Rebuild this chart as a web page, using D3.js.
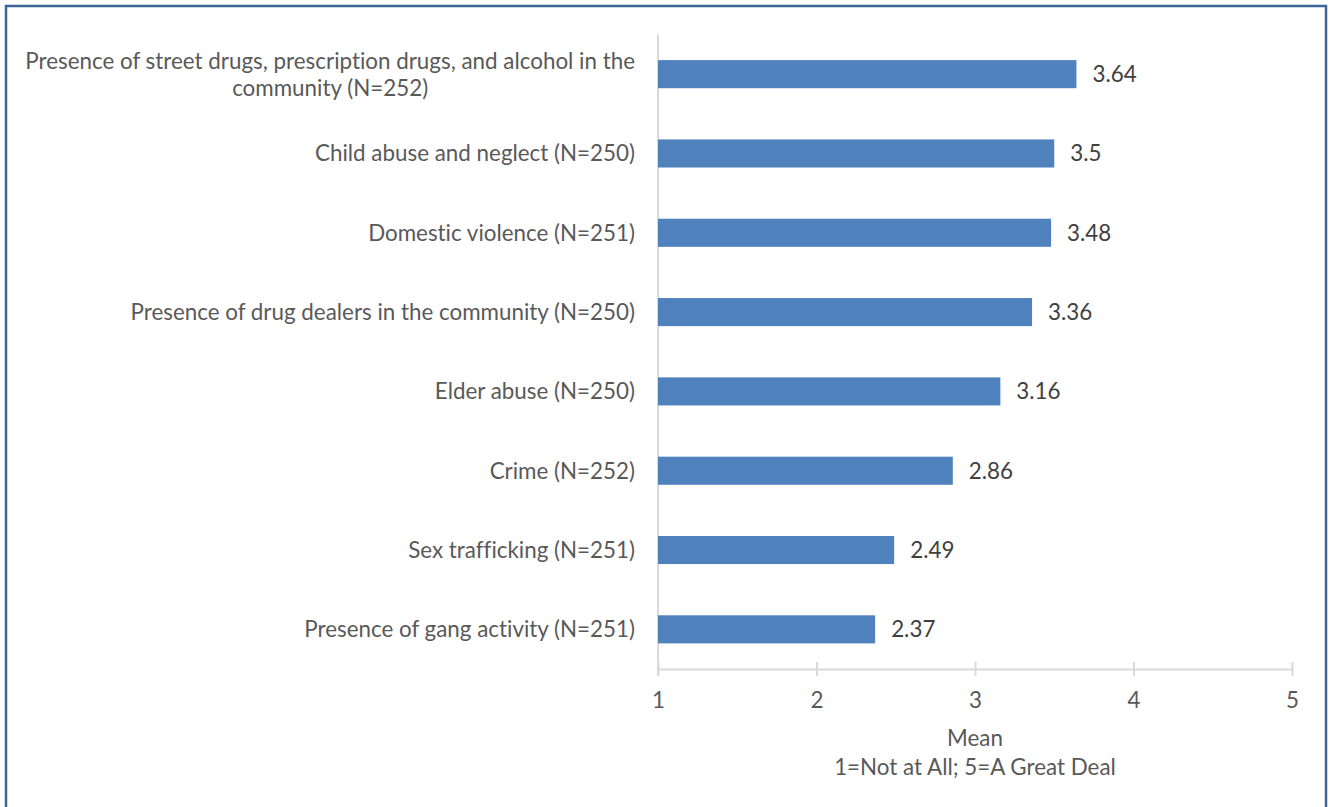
<!DOCTYPE html>
<html><head><meta charset="utf-8">
<script src="https://cdn.jsdelivr.net/npm/d3@7"></script>
<style>
html,body{margin:0;padding:0;background:#fff;}
svg{display:block;}
text{font-family:"Lato","Open Sans",sans-serif;font-variant-ligatures:none;font-feature-settings:"liga" 0;}
</style></head>
<body>
<svg id="chart" width="1331" height="807"></svg>
<script>
const categories = [
  "Presence of street drugs, prescription drugs, and alcohol in the|community (N=252)",
  "Child abuse and neglect (N=250)",
  "Domestic violence (N=251)",
  "Presence of drug dealers in the community (N=250)",
  "Elder abuse (N=250)",
  "Crime (N=252)",
  "Sex trafficking (N=251)",
  "Presence of gang activity (N=251)"
];
const values = [3.64, 3.5, 3.48, 3.36, 3.16, 2.86, 2.49, 2.37];
const valueLabels = ["3.64", "3.5", "3.48", "3.36", "3.16", "2.86", "2.49", "2.37"];
const xTicks = [1, 2, 3, 4, 5];
const axisTitle = ["Mean", "1=Not at All; 5=A Great Deal"];

const svg = d3.select("#chart");
const mLeft = 658, mRight = 1292, mTop = 34.5, mBottom = 669;

// border frame
svg.append("path")
  .attr("d", `M6,812 L6,6 L1326,6 L1326,812`)
  .attr("fill", "none").attr("stroke", "#3b6496").attr("stroke-width", 2.5);

// font size chosen so the longest label matches the reference width
const probe = svg.append("text").attr("font-size", 100).text(categories[0].split("|")[0]);
const pw = probe.node().getComputedTextLength();
probe.remove();
const fs = Math.min(23, 100 * 610 / pw);

const x = d3.scaleLinear().domain([1, 5]).range([mLeft, mRight]);
const y = d3.scaleBand().domain(categories).range([mTop, mBottom]).paddingInner(0.646).paddingOuter(0.323);

// x axis
const gx = svg.append("g").attr("transform", `translate(0,${mBottom})`)
  .call(d3.axisBottom(x).tickValues(xTicks).tickFormat(d3.format("d")).tickSize(7).tickSizeOuter(0).tickPadding(0));
gx.select(".domain").attr("stroke", "#d9d9d9").attr("stroke-width", 2);
gx.selectAll(".tick line").attr("stroke", "#d9d9d9").attr("stroke-width", 2).attr("y1", -7);
gx.selectAll(".tick text").attr("font-size", fs).attr("fill", "#595959").attr("dy", null).attr("y", 39);

// y axis line
svg.append("line").attr("x1", mLeft).attr("x2", mLeft).attr("y1", mTop).attr("y2", mBottom + 7)
  .attr("stroke", "#d9d9d9").attr("stroke-width", 2);

// bars
svg.append("g").selectAll("rect").data(values).join("rect")
  .attr("x", x(1)).attr("y", (d, i) => y(categories[i]))
  .attr("width", d => x(d) - x(1)).attr("height", y.bandwidth())
  .attr("fill", "#4f81bd");

// value labels
svg.append("g").selectAll("text").data(values).join("text")
  .attr("x", d => x(d) + 16).attr("y", (d, i) => y(categories[i]) + y.bandwidth() / 2)
  .attr("dy", "0.35em").attr("font-size", fs).attr("fill", "#404040")
  .text((d, i) => valueLabels[i]);

// category labels
const cl = svg.append("g").selectAll("text").data(categories).join("text")
  .attr("font-size", fs).attr("fill", "#595959")
  .attr("y", d => y(d) + y.bandwidth() / 2);
cl.each(function(d) {
  const parts = d.split("|");
  const t = d3.select(this);
  if (parts.length === 1) {
    t.attr("x", 635).attr("text-anchor", "end").attr("dy", "0.35em").text(d);
  } else {
    const tmp = svg.append("text").attr("font-size", fs).text(parts[0]);
    const w = tmp.node().getComputedTextLength(); tmp.remove();
    const cx = 635 - w / 2;
    t.attr("text-anchor", "middle");
    parts.forEach((p, k) => {
      t.append("tspan").attr("x", cx)
        .attr("dy", k === 0 ? "-0.25em" : "1.22em").text(p);
    });
  }
});

// axis title
svg.append("g").selectAll("text").data(axisTitle).join("text")
  .attr("x", (mLeft + mRight) / 2).attr("y", (d, i) => 738 + i * 29)
  .attr("dy", "0.35em").attr("text-anchor", "middle")
  .attr("font-size", fs).attr("fill", "#595959").text(d => d);
</script>
</body></html>
